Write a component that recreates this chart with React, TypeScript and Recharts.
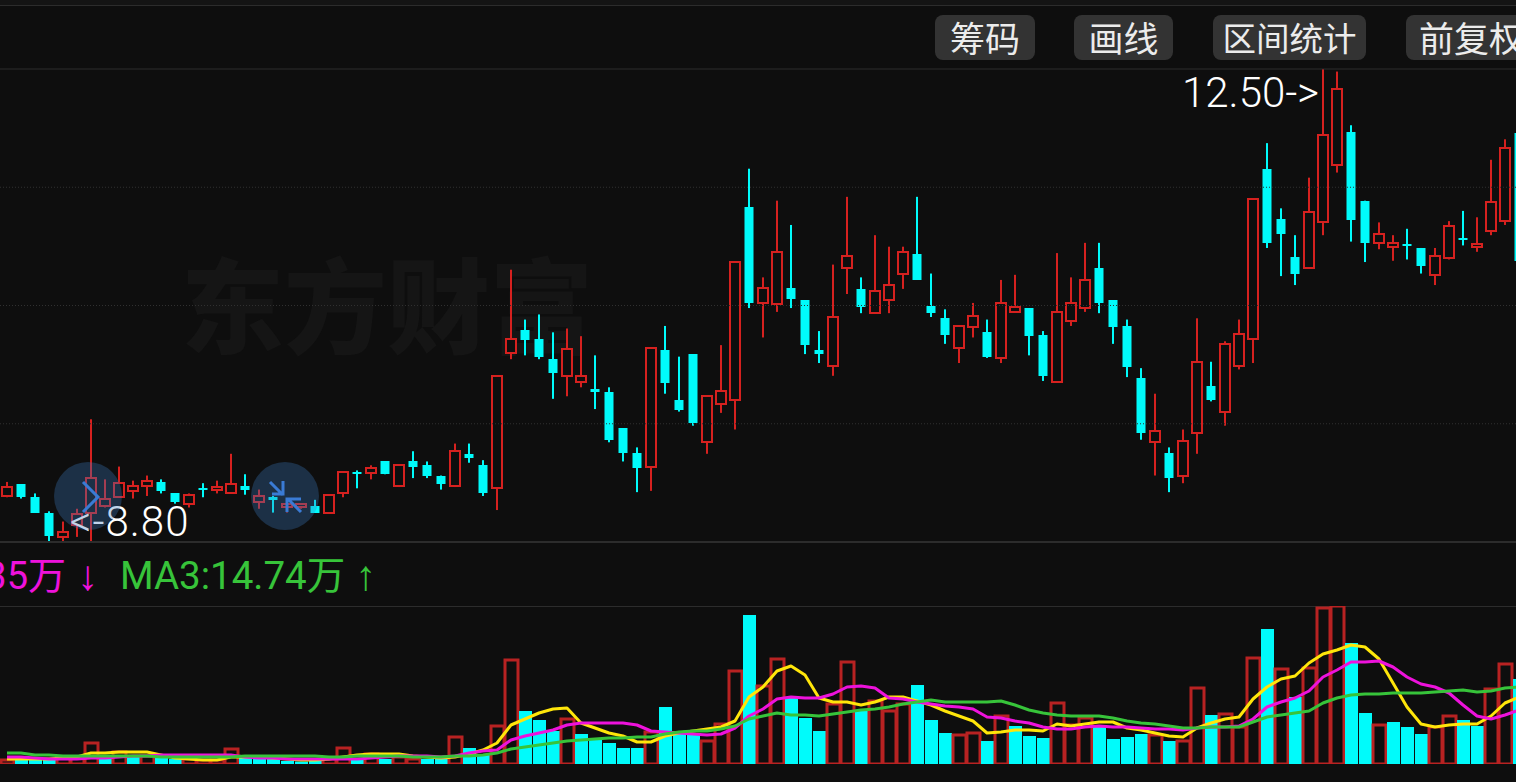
import { Bar, Cell, ComposedChart, Line, ReferenceLine, XAxis, YAxis } from "recharts";

const RED = "#d6211f";
const VOL_RED = "#b82222";
const CYAN = "#00fbfb";
const LINE = "#2c2c2c";

// candles, left to right
const candleHigh = [
  9.27, 9.25, 9.18, 9.04, 8.96, 9.06, 9.76, 9.29, 9.39, 9.28,
  9.32, 9.29, 9.18, 9.18, 9.26, 9.28, 9.49, 9.33, 9.21, 9.16,
  9.10, 9.10, 9.13, 9.17, 9.35, 9.36, 9.40, 9.43, 9.41, 9.51,
  9.43, 9.32, 9.57, 9.57, 9.44, 10.10, 10.93, 10.54, 10.58, 10.44,
  10.47, 10.41, 10.26, 10.01, 9.69, 9.54, 10.32, 10.49, 10.25, 10.27,
  9.94, 10.34, 10.99, 11.72, 10.87, 11.47, 11.28, 10.69, 10.45, 10.97,
  11.50, 10.87, 11.20, 11.11, 11.11, 11.50, 10.90, 10.62, 10.49, 10.67,
  10.54, 10.85, 10.89, 10.63, 10.45, 11.06, 10.87, 11.14, 11.14, 10.69,
  10.54, 10.16, 9.96, 9.54, 9.68, 10.55, 10.21, 10.37, 10.54, 11.48,
  11.92, 11.41, 11.20, 11.65, 12.50, 12.48, 12.06, 11.47, 11.30, 11.20,
  11.25, 11.10, 11.10, 11.31, 11.39, 11.34, 11.79, 11.95, 12.00,
];
const candleTop = [
  9.23, 9.25, 9.15, 9.03, 8.88, 9.02, 9.30, 9.14, 9.26, 9.24,
  9.28, 9.27, 9.18, 9.17, 9.22, 9.23, 9.25, 9.24, 9.16, 9.15,
  9.10, 9.10, 9.08, 9.17, 9.35, 9.35, 9.38, 9.43, 9.40, 9.43,
  9.40, 9.32, 9.51, 9.49, 9.40, 10.10, 10.39, 10.46, 10.39, 10.23,
  10.31, 10.10, 10.00, 9.97, 9.69, 9.50, 10.32, 10.30, 9.91, 10.27,
  9.94, 9.98, 10.99, 11.42, 10.79, 11.07, 10.79, 10.69, 10.30, 10.56,
  11.04, 10.78, 10.76, 10.81, 11.07, 11.05, 10.65, 10.55, 10.49, 10.57,
  10.44, 10.67, 10.64, 10.63, 10.42, 10.60, 10.67, 10.85, 10.94, 10.69,
  10.49, 10.08, 9.67, 9.50, 9.59, 10.21, 10.02, 10.35, 10.43, 11.48,
  11.72, 11.33, 11.03, 11.38, 11.98, 12.34, 12.01, 11.47, 11.21, 11.14,
  11.13, 11.10, 11.04, 11.27, 11.18, 11.13, 11.46, 11.88, 12.00,
];
const candleBottom = [
  9.16, 9.15, 9.03, 8.85, 8.84, 8.93, 9.03, 9.08, 9.15, 9.20,
  9.24, 9.20, 9.11, 9.10, 9.21, 9.21, 9.18, 9.21, 9.11, 9.13,
  9.07, 9.07, 9.03, 9.03, 9.18, 9.34, 9.34, 9.33, 9.24, 9.39,
  9.32, 9.25, 9.24, 9.46, 9.18, 9.22, 10.28, 10.38, 10.25, 10.12,
  10.10, 10.05, 9.97, 9.60, 9.50, 9.38, 9.39, 10.04, 9.83, 9.73,
  9.58, 9.88, 9.91, 10.67, 10.67, 10.66, 10.70, 10.34, 10.27, 10.18,
  10.94, 10.64, 10.59, 10.69, 10.90, 10.85, 10.59, 10.42, 10.32, 10.48,
  10.25, 10.24, 10.60, 10.41, 10.10, 10.05, 10.53, 10.63, 10.67, 10.48,
  10.17, 9.65, 9.58, 9.30, 9.32, 9.65, 9.91, 9.82, 10.18, 10.39,
  11.14, 11.21, 10.90, 10.94, 11.30, 11.75, 11.32, 11.14, 11.14, 11.11,
  11.12, 10.96, 10.89, 11.02, 11.17, 11.11, 11.23, 11.31, 11.00,
];
const candleLow = [
  9.15, 9.14, 9.03, 8.80, 8.80, 8.84, 8.80, 9.07, 9.15, 9.14,
  9.16, 9.18, 9.10, 9.07, 9.15, 9.18, 9.18, 9.17, 9.06, 9.03,
  9.03, 9.06, 9.03, 9.03, 9.15, 9.22, 9.29, 9.33, 9.23, 9.30,
  9.30, 9.21, 9.23, 9.42, 9.16, 9.05, 10.23, 10.26, 10.23, 9.92,
  9.94, 10.01, 9.84, 9.58, 9.43, 9.19, 9.20, 9.96, 9.82, 9.71,
  9.49, 9.81, 9.68, 10.63, 10.40, 10.60, 10.63, 10.27, 10.20, 10.10,
  10.74, 10.59, 10.59, 10.59, 10.78, 10.85, 10.56, 10.35, 10.20, 10.40,
  10.24, 10.20, 10.60, 10.26, 10.06, 10.05, 10.49, 10.60, 10.59, 10.35,
  10.09, 9.60, 9.32, 9.19, 9.26, 9.49, 9.90, 9.71, 10.15, 10.20,
  11.10, 10.88, 10.81, 10.94, 11.20, 11.69, 11.15, 10.99, 11.09, 11.00,
  11.01, 10.90, 10.81, 11.01, 11.12, 11.07, 11.20, 11.28, 11.00,
];
const candleRise = [
  1, 0, 0, 0, 1, 1, 1, 1, 1, 1,
  1, 0, 0, 1, 0, 1, 1, 0, 1, 0,
  1, 1, 0, 1, 1, 0, 1, 0, 1, 0,
  0, 0, 1, 0, 0, 1, 1, 0, 0, 0,
  1, 1, 0, 0, 0, 0, 1, 0, 0, 0,
  1, 1, 1, 0, 1, 1, 0, 0, 0, 1,
  1, 0, 1, 1, 1, 0, 0, 0, 1, 1,
  0, 1, 1, 0, 0, 1, 1, 1, 0, 0,
  0, 0, 1, 0, 1, 1, 0, 1, 1, 1,
  0, 0, 0, 1, 1, 1, 0, 0, 1, 1,
  0, 0, 1, 1, 0, 1, 1, 1, 0,
];

// volume in 万
const volume = [
  0.8, 0.8, 0.8, 1, 1.2, 1.2, 4.2, 1.4, 2.4, 1.4,
  1.6, 1.2, 1, 1, 0.8, 0.8, 3, 1.2, 1.2, 1,
  0.6, 0.5, 0.6, 1, 3.2, 1.2, 2, 1, 1.4, 1,
  1, 1, 5.4, 3.2, 1.8, 7.6, 20.8, 10.6, 8.8, 6.6,
  9, 6, 4.8, 4.2, 3.2, 3.2, 6.4, 11.4, 6.6, 6.2,
  4.6, 8, 18.6, 29.8, 15.6, 21, 13.2, 9.2, 6.6, 12,
  20.4, 10.8, 12.6, 10.6, 12, 15.8, 8.8, 6.2, 5.8, 6.2,
  4.6, 9.6, 7.6, 5.6, 5.2, 12.2, 7.8, 9.2, 7.4, 5,
  5.4, 6, 5.8, 4.6, 4.6, 15.2, 9.8, 10, 7.4, 21.2,
  27, 19, 13.4, 19.2, 31.2, 31.6, 24.2, 10.2, 7.8, 8.4,
  7.4, 6, 7.4, 9.6, 8.8, 7.6, 15, 20, 17,
];
const volumeRise = [
  1, 0, 0, 0, 1, 1, 1, 0, 1, 0,
  1, 0, 0, 1, 1, 1, 1, 0, 0, 0,
  0, 0, 0, 1, 1, 0, 1, 0, 1, 1,
  0, 0, 1, 0, 0, 1, 1, 0, 0, 0,
  1, 0, 0, 0, 0, 0, 1, 0, 0, 0,
  1, 1, 1, 0, 1, 1, 0, 0, 0, 1,
  1, 0, 1, 1, 1, 0, 0, 0, 1, 1,
  0, 1, 0, 0, 0, 1, 1, 1, 0, 0,
  0, 0, 1, 0, 1, 1, 0, 1, 1, 1,
  0, 1, 0, 1, 1, 1, 0, 0, 1, 0,
  0, 0, 1, 1, 0, 0, 1, 1, 0,
];
const ma1 = [
  1, 1, 1, 1, 1.2, 1.4, 2.2, 2.2, 2.4, 2.4,
  2.4, 1.8, 1.2, 1, 0.8, 0.8, 1.4, 1.4, 1.4, 1.2,
  1, 0.8, 0.8, 1, 1.4, 1.8, 2, 2, 2, 1.6,
  1.4, 1.2, 1.4, 2, 2.8, 4.2, 7.8, 9, 10.2, 11,
  11.2, 8.2, 7.2, 6.2, 5.6, 4.4, 4.4, 5.6, 6.2, 6.6,
  7, 7.4, 8.6, 13.4, 15.4, 18.6, 19.6, 17.8, 13.2, 12.4,
  12.4, 11.8, 12.4, 13.4, 13.4, 12.6, 11.8, 10.6, 9.6, 8.6,
  6.2, 6.4, 6.8, 6.8, 6.6, 8, 7.6, 8, 8.4, 8.4,
  7.2, 6.8, 6.2, 5.6, 5.4, 7.2, 8.2, 9, 9.4, 13,
  15.4, 17, 17.6, 20.2, 22, 22.8, 23.8, 23.4, 21, 16.2,
  11.4, 8, 7.4, 7.8, 8, 8, 9.6, 12.2, 13.4,
];
const ma2 = [
  1.4, 1.4, 1.2, 1, 1, 1, 1.2, 1.2, 1.4, 1.6,
  1.6, 1.8, 1.8, 1.8, 1.8, 1.8, 1.8, 1.4, 1.2, 1.2,
  1, 1, 1, 1, 1, 1, 1.2, 1.4, 1.6, 1.6,
  1.6, 1.4, 1.6, 2.2, 2.6, 2.8, 4.8, 5.6, 6.2, 6.8,
  7.8, 8.2, 8.2, 8.2, 8.2, 7.8, 6.6, 6.4, 6.2, 6,
  5.8, 6, 7.2, 9.6, 11, 13, 13.4, 13.2, 13.2, 14,
  15.4, 15.6, 15.2, 13.2, 13, 12.4, 12, 11.6, 11.4, 11,
  9.4, 9.2, 8.6, 8.2, 7.4, 7, 7, 7.4, 7.6, 7.4,
  7.4, 7.2, 7, 7, 6.8, 7.2, 7.4, 7.4, 7.6, 9,
  11.4, 12.4, 13.2, 14.6, 17.4, 18.8, 20.4, 20.4, 20.6, 19.4,
  17.4, 16, 15.4, 14.2, 11.8, 9.6, 9, 9.8, 10.8,
];
const ma3 = [
  2.2, 2.2, 1.8, 1.8, 1.6, 1.6, 1.6, 1.6, 1.6, 1.6,
  1.6, 1.4, 1.4, 1.4, 1.4, 1.4, 1.4, 1.6, 1.6, 1.6,
  1.6, 1.6, 1.6, 1.4, 1.4, 1.6, 1.6, 1.6, 1.6, 1.4,
  1.4, 1.4, 1.6, 1.6, 1.8, 2.2, 3, 3.4, 3.8, 4.2,
  4.6, 4.8, 5, 5.2, 5.2, 5.4, 5.4, 6, 6.4, 6.6,
  6.6, 7, 7.6, 9, 9.6, 10.2, 9.8, 9.8, 9.6, 10,
  10.4, 10.8, 11, 11.4, 12, 12.4, 12.8, 12.4, 12.4, 12.4,
  12.4, 12.6, 11.8, 10.8, 10.2, 9.8, 9.6, 9.6, 9.6, 9.2,
  8.6, 8.2, 8, 7.6, 7.2, 7.2, 7.4, 7.4, 7.4, 8.4,
  9.4, 9.8, 10.2, 10.6, 12.2, 13.2, 13.8, 14, 14, 14.2,
  14.2, 14.2, 14.4, 14.6, 14.8, 14.4, 14.6, 15.2, 15.4,
];

const priceGrid = [11.575, 10.65, 9.725];
const buttonLabels = ["筹码", "画线", "区间统计", "前复权"];

const buttonBoxes = [
  { left: 935, width: 100, fontSize: 35, pad: 0, align: "center" },
  { left: 1074, width: 99, fontSize: 35, pad: 0, align: "center" },
  { left: 1213, width: 153, fontSize: 33.5, pad: 0, align: "center" },
  { left: 1406, width: 130, fontSize: 35, pad: 13, align: "left" },
];

const candles = candleHigh.map((high, i) => ({
  i,
  range: [candleLow[i], high],
  high,
  low: candleLow[i],
  top: candleTop[i],
  bottom: candleBottom[i],
  rise: candleRise[i] === 1,
}));

const volumes = volume.map((v, i) => ({
  i,
  v,
  ma1: ma1[i],
  ma2: ma2[i],
  ma3: ma3[i],
  rise: volumeRise[i] === 1,
}));

function Candle(props: any) {
  const { x, y, width, height, payload } = props;
  const { high, low, top, bottom, rise } = payload;
  const cx = Math.round(x + width / 2);
  const perUnit = height / (high - low);
  const bodyTop = Math.round(y + (high - top) * perUnit);
  const bodyBottom = Math.round(y + (high - bottom) * perUnit);
  const color = rise ? RED : CYAN;
  return (
    <g>
      <rect x={cx - 1} y={y} width={2} height={height} fill={color} />
      {rise ? (
        <rect
          x={cx - 5}
          y={bodyTop}
          width={10}
          height={Math.max(bodyBottom - bodyTop, 1)}
          fill="#0e0e0e"
          stroke={color}
          strokeWidth={2}
        />
      ) : (
        <rect x={cx - 4.5} y={bodyTop} width={9} height={Math.max(bodyBottom - bodyTop, 2)} fill={color} />
      )}
    </g>
  );
}

export default function App() {
  const textFont = "Roboto, 'Noto Sans CJK SC', sans-serif";
  return (
    <div style={{ position: "fixed", left: 0, top: 0, width: 1516, height: 782, overflow: "hidden", background: "#0e0e0e", fontFamily: textFont }}>
      <div style={{ position: "absolute", left: 0, top: 0, width: 1516, height: 5, background: "#141414", borderBottom: `1px solid ${LINE}` }} />
      <div style={{ position: "absolute", left: 0, top: 606, width: 1516, borderTop: `1px solid ${LINE}` }} />

      {/* watermark */}
      <div style={{ position: "absolute", left: 181, top: 227, fontSize: 103, fontWeight: 900, lineHeight: "150px", color: "#151515", fontFamily: "'Noto Sans CJK SC'", whiteSpace: "nowrap" }}>
        东方财富
      </div>

      {buttonLabels.map((label, i) => {
        const b = buttonBoxes[i];
        return (
          <div key={label} style={{ position: "absolute", left: b.left, top: 15, width: b.width, height: 45, borderRadius: 8, background: "#333333", color: "#ececec", fontSize: b.fontSize, lineHeight: "43px", fontFamily: "'Noto Sans CJK SC'", textAlign: b.align as any, paddingLeft: b.pad, boxSizing: "border-box", whiteSpace: "nowrap" }}>
            {label}
          </div>
        );
      })}

      <div style={{ position: "absolute", left: 0, top: 0 }}>
        <ComposedChart width={1526} height={560} data={candles} margin={{ top: 69, right: 0, bottom: 18, left: 0 }}>
          <XAxis dataKey="i" hide />
          <YAxis hide domain={[8.8, 12.5]} allowDataOverflow />
          <ReferenceLine y={12.5} stroke={LINE} />
          {priceGrid.map((p) => (
            <ReferenceLine key={p} y={p} stroke="#303030" strokeDasharray="1 2" />
          ))}
          <ReferenceLine y={8.8} stroke={LINE} strokeWidth={2} />
          <Bar dataKey="range" barSize={10} shape={<Candle />} isAnimationActive={false} />
        </ComposedChart>
      </div>

      <div style={{ position: "absolute", left: 0, top: 596 }}>
        <ComposedChart width={1526} height={186} data={volumes} margin={{ top: 10, right: 0, bottom: 18, left: 0 }}>
          <XAxis dataKey="i" hide />
          <YAxis hide domain={[0, 31.6]} allowDataOverflow />
          <Bar dataKey="v" barSize={13} isAnimationActive={false}>
            {volumes.map((d) => (
              <Cell
                key={d.i}
                fill={d.rise ? "none" : CYAN}
                stroke={d.rise ? VOL_RED : "none"}
                strokeWidth={d.rise ? 3 : 0}
              />
            ))}
          </Bar>
          <Line dataKey="ma1" type="linear" stroke="#ffe60a" strokeWidth={3} strokeLinejoin="round" dot={false} isAnimationActive={false} />
          <Line dataKey="ma2" type="linear" stroke="#ee12dc" strokeWidth={3} strokeLinejoin="round" dot={false} isAnimationActive={false} />
          <Line dataKey="ma3" type="linear" stroke="#37c43a" strokeWidth={3} strokeLinejoin="round" dot={false} isAnimationActive={false} />
        </ComposedChart>
      </div>

      <div style={{ position: "absolute", right: 1516 - 66, top: 552, fontSize: 38, lineHeight: "48px", color: "#ee12dc", whiteSpace: "nowrap" }}>35万</div>
      <div style={{ position: "absolute", left: 77, top: 552, fontSize: 42, lineHeight: "48px", color: "#ee12dc", fontFamily: "'Liberation Sans'", whiteSpace: "nowrap" }}>↓</div>
      <div style={{ position: "absolute", left: 120, top: 552, fontSize: 38.5, lineHeight: "48px", color: "#37c43a", whiteSpace: "nowrap" }}>MA3:14.74万</div>
      <div style={{ position: "absolute", left: 355, top: 552, fontSize: 42, lineHeight: "48px", color: "#37c43a", fontFamily: "'Liberation Sans'", whiteSpace: "nowrap" }}>↑</div>

      <div style={{ position: "absolute", left: 1182, top: 68, fontSize: 42, fontWeight: 300, lineHeight: "50px", color: "#ffffff", whiteSpace: "nowrap" }}>12.50-&gt;</div>
      <div style={{ position: "absolute", left: 70, top: 497, fontSize: 42, fontWeight: 300, letterSpacing: 1, lineHeight: "50px", color: "#ffffff", whiteSpace: "nowrap" }}>&lt;-8.80</div>

      {/* floating buttons over the chart */}
      <svg width={1516} height={782} style={{ position: "absolute", left: 0, top: 0 }}>
        <circle cx={88} cy={496} r={34} fill="rgba(60,120,190,0.32)" />
        <circle cx={285} cy={496} r={34} fill="rgba(60,120,190,0.32)" />
        <path d="M83 482 L98 497 L83 512" fill="none" stroke="#3a7bd5" strokeWidth={3} />
        <path d="M270 482 L283 495 M272 494 L283 494 L283 481" fill="none" stroke="#3a7bd5" strokeWidth={3} />
        <path d="M301 512 L288 499 M287 512 L287 499 L301 499" fill="none" stroke="#3a7bd5" strokeWidth={3} />
      </svg>
    </div>
  );
}
